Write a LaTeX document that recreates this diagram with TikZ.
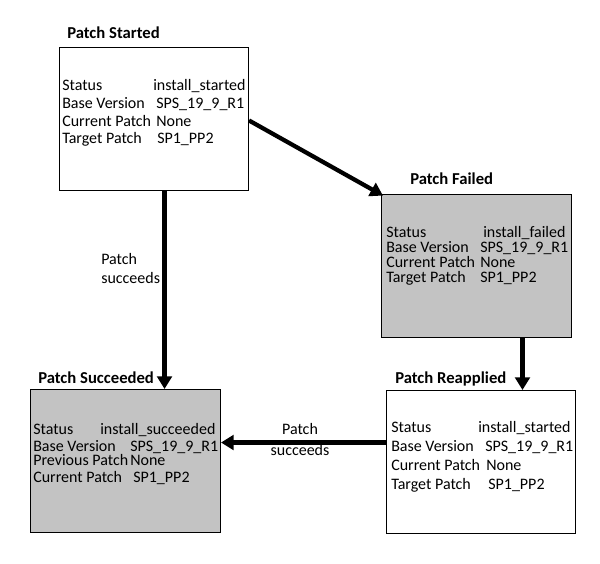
\documentclass[tikz,border=0pt]{standalone}
\usepackage{fontspec}
\setmainfont{Carlito}
\usetikzlibrary{arrows.meta,calc}
\definecolor{boxgray}{HTML}{C3C3C3}
\begin{document}
\begin{tikzpicture}[x=0.75pt,y=-0.75pt,
  box/.style={draw=black, line width=0.75pt, anchor=north west, inner sep=0pt},
  txt/.style={anchor=base west, inner sep=0pt, font=\fontsize{12}{14}\selectfont},
  ttl/.style={anchor=base west, inner sep=0pt, font=\fontsize{12.5}{14}\selectfont\bfseries},
  lbl/.style={inner sep=0pt, font=\fontsize{12}{14}\selectfont},
  arr/.style={line width=3.2pt, -{Triangle[length=9.5pt,width=11pt]}}]
\useasboundingbox (0,0) rectangle (600,564);
% boxes
\node[box, minimum width=141.75pt, minimum height=107.25pt] (started) at (59,47) {};
\node[box, fill=boxgray, minimum width=142.5pt, minimum height=107.25pt] (failed) at (381,194) {};
\node[box, fill=boxgray, minimum width=142.5pt, minimum height=107.25pt] (succeeded) at (30,389) {};
\node[box, minimum width=141.75pt, minimum height=107.25pt] (reapplied) at (386,390) {};
% titles
\node[ttl] (tstarted) at (67,38) {Patch Started};
\node[ttl] (tfailed) at (410,184) {Patch Failed};
\node[ttl] (tsucceeded) at (38,383) {Patch Succeeded};
\node[ttl] (treapplied) at (395,383) {Patch Reapplied};
% started text
\node[txt] (s1) at (62,90) {Status};
\node[txt] (s1v) at (153,90) {install\_started};
\node[txt] (s2) at (62,108) {Base Version};
\node[txt] (s2v) at (156,108) {SPS\_19\_9\_R1};
\node[txt] (s3) at (62,126) {Current Patch};
\node[txt] (s3v) at (156,126) {None};
\node[txt] (s4) at (62,143) {Target Patch};
\node[txt] (s4v) at (157,143) {SP1\_PP2};
% failed text
\node[txt] (f1) at (386,237) {Status};
\node[txt] (f1v) at (483,237) {install\_failed};
\node[txt] (f2) at (386,252) {Base Version};
\node[txt] (f2v) at (480,252) {SPS\_19\_9\_R1};
\node[txt] (f3) at (386,267) {Current Patch};
\node[txt] (f3v) at (480,267) {None};
\node[txt] (f4) at (386,282) {Target Patch};
\node[txt] (f4v) at (480,282) {SP1\_PP2};
% succeeded text
\node[txt] (u1) at (33,434) {Status};
\node[txt] (u1v) at (100,434) {install\_succeeded};
\node[txt] (u2) at (33,451) {Base Version};
\node[txt] (u2v) at (130,451) {SPS\_19\_9\_R1};
\node[txt] (u3) at (33,465) {Previous Patch};
\node[txt] (u3v) at (130,465) {None};
\node[txt] (u4) at (33,482) {Current Patch};
\node[txt] (u4v) at (133,482) {SP1\_PP2};
% reapplied text
\node[txt] (r1) at (391,432) {Status};
\node[txt] (r1v) at (478,432) {install\_started};
\node[txt] (r2) at (391,451) {Base Version};
\node[txt] (r2v) at (485,451) {SPS\_19\_9\_R1};
\node[txt] (r3) at (391,470) {Current Patch};
\node[txt] (r3v) at (486,470) {None};
\node[txt] (r4) at (391,489) {Target Patch};
\node[txt] (r4v) at (488,489) {SP1\_PP2};
% connectors
\draw[arr] ([yshift=-1.1pt]started.east) -- ([xshift=1.5pt,yshift=-1.2pt]failed.north west);
\draw[arr] ([xshift=7.9pt]started.south) -- ([xshift=7.9pt]started.south |- succeeded.north);
\draw[arr] ([xshift=34.5pt]failed.south) -- ([xshift=34.5pt]failed.south |- reapplied.north);
\draw[arr] ([yshift=14.6pt]reapplied.west) -- ([yshift=14.6pt]reapplied.west -| succeeded.east);
% labels
\node[lbl, align=left, anchor=north west] (lab1) at (101,253) {Patch\\succeeds};
\node[lbl, align=center, anchor=north] (lab2) at (300,423) {Patch\\[2pt]succeeds};
\end{tikzpicture}
\end{document}
